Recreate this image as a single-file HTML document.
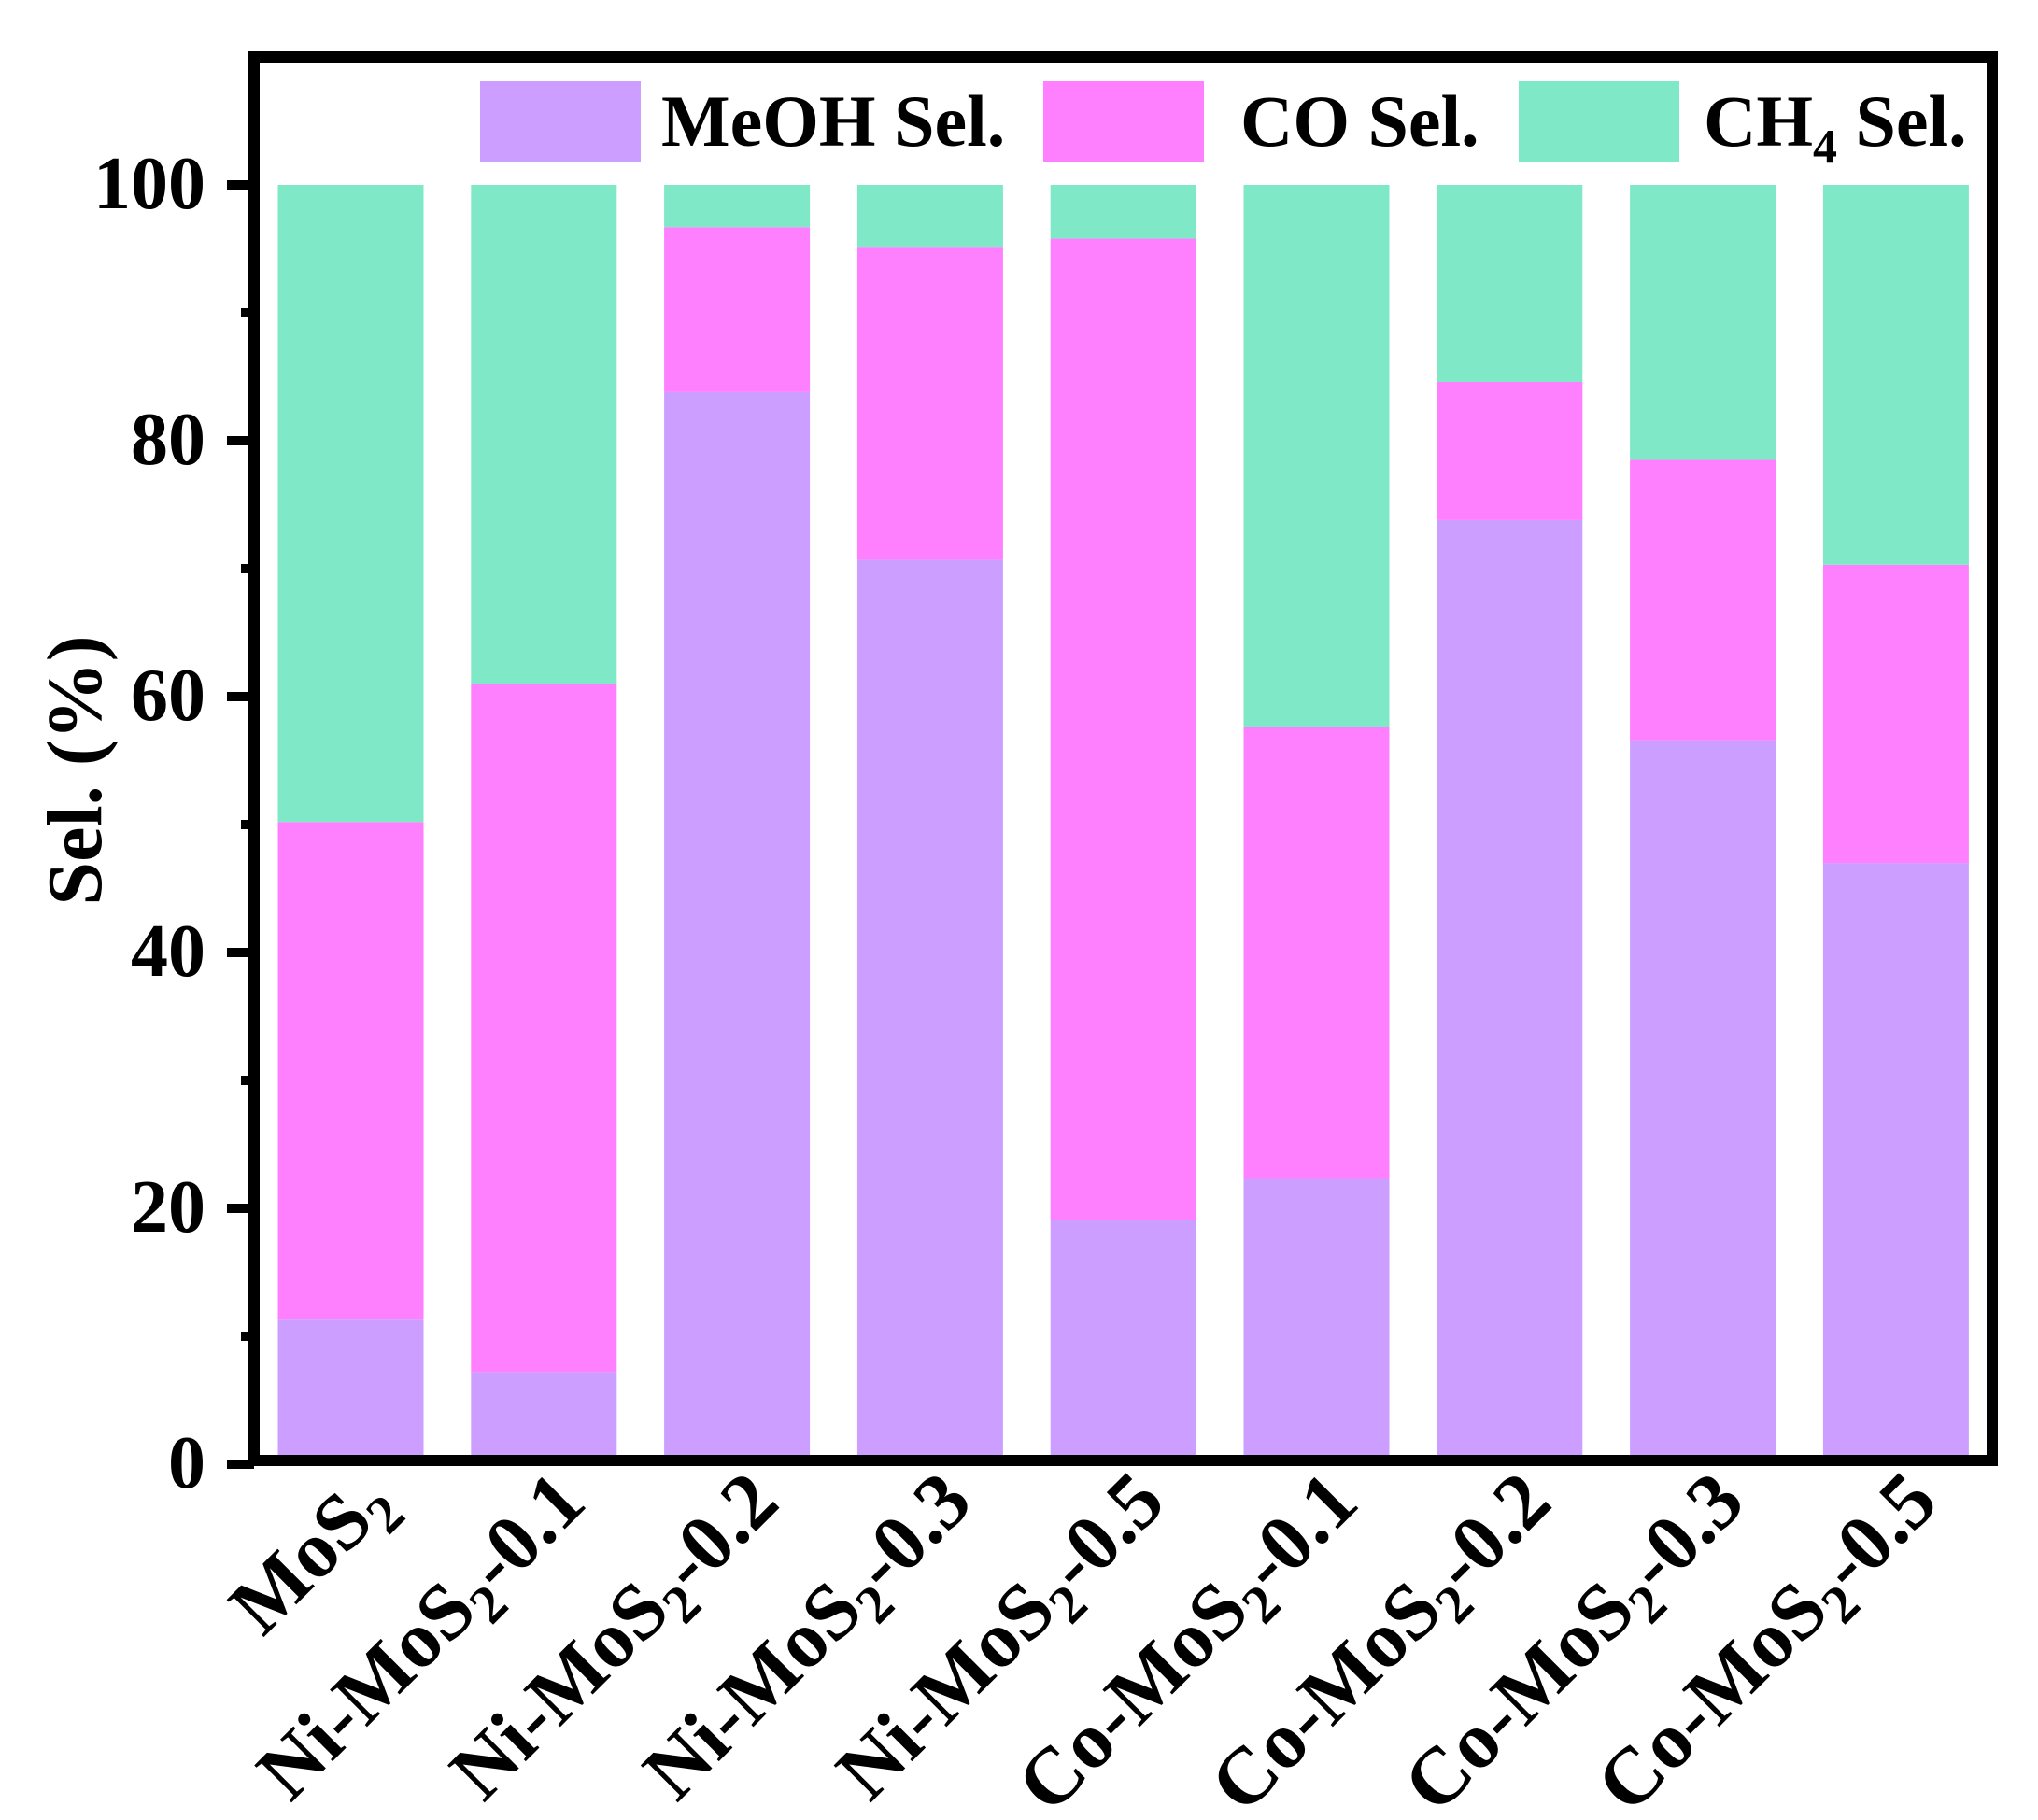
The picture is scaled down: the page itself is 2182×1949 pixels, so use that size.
<!DOCTYPE html>
<html><head><meta charset="utf-8"><style>
html,body{margin:0;padding:0;background:#fff}
svg{display:block}
text{font-family:"Liberation Serif",serif;font-weight:bold;fill:#000}
</style></head><body>
<svg id="chart" width="2182" height="1949" viewBox="0 0 2182 1949" xmlns="http://www.w3.org/2000/svg">
<g id="bars"></g>
<g id="axes"></g>
<g id="legend"></g>
</svg>
<script>
const categories = ["MoS2","Ni-MoS2-0.1","Ni-MoS2-0.2","Ni-MoS2-0.3","Ni-MoS2-0.5","Co-MoS2-0.1","Co-MoS2-0.2","Co-MoS2-0.3","Co-MoS2-0.5"];
const meohSel = [11.3, 7.2, 83.8, 70.7, 19.1, 22.3, 73.8, 56.6, 47.0];
const coSel = [38.9, 53.8, 12.9, 24.4, 76.7, 35.3, 10.8, 21.9, 23.3];
const ch4Sel = [49.8, 39.0, 3.3, 4.9, 4.2, 42.4, 15.4, 21.5, 29.7];
const yTicks = [0, 20, 40, 60, 80, 100];
const yMinorTicks = [10, 30, 50, 70, 90];

const NS = "http://www.w3.org/2000/svg";
const X0 = 272, X1 = 2133, Y0 = 1564, YTOP = 61;
function yScale(v){ return 1568 - v * (1568 - 198) / 100; }
const step = 206.8, firstCenter = 375.5, barW = 156;
function xCenter(i){ return firstCenter + i * step; }
function el(tag, attrs, parent){ const e = document.createElementNS(NS, tag); for (const k in attrs) e.setAttribute(k, attrs[k]); parent.appendChild(e); return e; }

const colors = {meoh:"#CC9EFF", co:"#FF80FF", ch4:"#7FE8C6"};
const bars = document.getElementById("bars");
categories.forEach((c, i) => {
  const x = xCenter(i) - barW/2;
  let base = 0;
  [["meoh", meohSel[i]], ["co", coSel[i]], ["ch4", ch4Sel[i]]].forEach(([k, v]) => {
    const top = base + v;
    const r = el("rect", {x: x, y: yScale(top), width: barW, height: yScale(base) - yScale(top), fill: colors[k]}, bars);
    
    
    base = top;
  });
});

const axes = document.getElementById("axes");
const frame = el("rect", {x: X0, y: YTOP, width: X1 - X0, height: Y0 - YTOP, fill: "none", stroke: "#000", "stroke-width": 12}, axes);


yTicks.forEach(t => {
  const y = yScale(t);
  const tk = el("line", {x1: 243, x2: X0, y1: y, y2: y, stroke: "#000", "stroke-width": 10}, axes);
  
  
  const lb = el("text", {x: 220, y: y + 25, "text-anchor": "end", "font-size": 80}, axes);
  lb.textContent = t;
  
  
});
yMinorTicks.forEach(t => {
  const y = yScale(t);
  const tk = el("line", {x1: 258, x2: X0, y1: y, y2: y, stroke: "#000", "stroke-width": 10}, axes);
  
  
});
const yl = el("text", {x: 0, y: 0, "text-anchor": "middle", "font-size": 84, transform: "translate(108,825) rotate(-90)"}, axes);
yl.textContent = "Sel. (%)";



categories.forEach((c, i) => {
  const ax = xCenter(i) + 48, ay = 1612;
  const t = el("text", {x: 0, y: 0, "text-anchor": "end", "font-size": 86, transform: `translate(${ax},${ay}) rotate(-45)`}, axes);
  const parts = c.split("MoS2");
  const s1 = el("tspan", {}, t); s1.textContent = parts[0] + "MoS";
  const s2 = el("tspan", {"font-size": 58, dy: 18}, t); s2.textContent = "2";
  const s3 = el("tspan", {dy: -18}, t); s3.textContent = parts[1] || "";
  
  
});

const legend = document.getElementById("legend");
const legendItems = [["meoh", 514, "MeOH Sel.", 708], ["co", 1117, "CO Sel.", 1328], ["ch4", 1626, "CH", 1824]];
legendItems.forEach(([k, x, label, tx]) => {
  const r = el("rect", {x: x, y: 87, width: 172, height: 86, fill: colors[k]}, legend);
  
  
  const t = el("text", {x: tx, y: 156, "font-size": 78}, legend);
  if (k === "ch4") {
    const a = el("tspan", {}, t); a.textContent = "CH";
    const b = el("tspan", {"font-size": 52, dy: 18}, t); b.textContent = "4";
    const d = el("tspan", {dy: -18}, t); d.textContent = " Sel.";
  } else t.textContent = label;
  
  
});
</script>
</body></html>
